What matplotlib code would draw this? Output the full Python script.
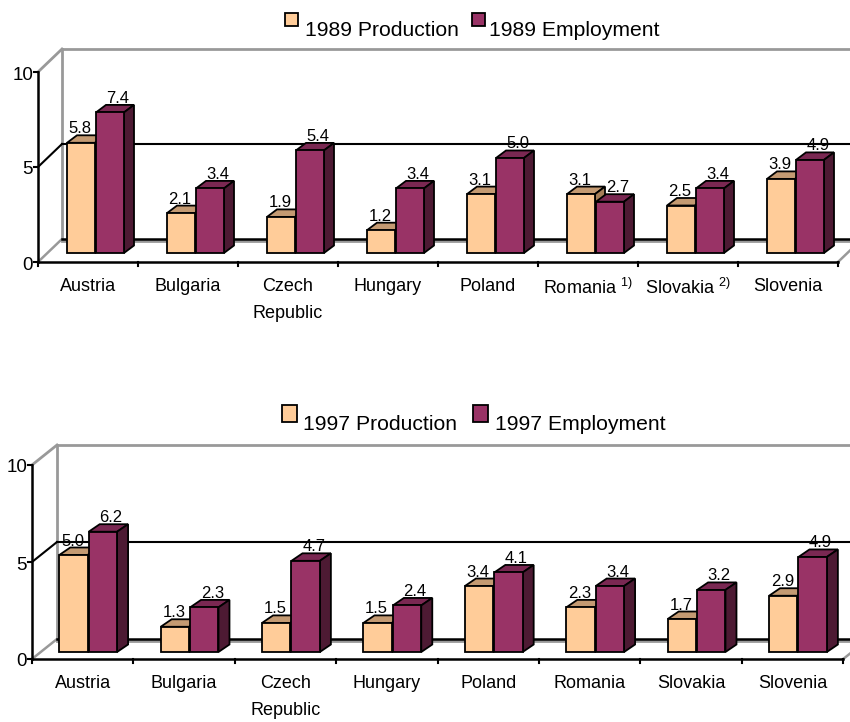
import matplotlib
matplotlib.use("Agg")
import matplotlib.pyplot as plt
from matplotlib.patches import Polygon, Rectangle

plt.rcParams["font.family"] = ["Liberation Sans", "DejaVu Sans"]
plt.rcParams["mathtext.fontset"] = "custom"
plt.rcParams["mathtext.rm"] = "Liberation Sans"

# ---- data -------------------------------------------------------------
countries = ["Austria", "Bulgaria", "Czech\nRepublic", "Hungary",
             "Poland", "Romania", "Slovakia", "Slovenia"]
notes_1989 = ["", "", "", "", "", "1)", "2)", ""]
notes_1997 = ["", "", "", "", "", "", "", ""]

production_1989 = [5.8, 2.1, 1.9, 1.2, 3.1, 3.1, 2.5, 3.9]
employment_1989 = [7.4, 3.4, 5.4, 3.4, 5.0, 2.7, 3.4, 4.9]
production_1997 = [5.0, 1.3, 1.5, 1.5, 3.4, 2.3, 1.7, 2.9]
employment_1997 = [6.2, 2.3, 4.7, 2.4, 4.1, 3.4, 3.2, 4.9]

y_ticks = [0, 5, 10]
y_max = 10

# ---- styling ----------------------------------------------------------
W, H = 850, 722
PROD_FRONT, PROD_TOP, PROD_SIDE = "#FFCC99", "#C49A72", "#A57E58"
EMP_FRONT, EMP_TOP, EMP_SIDE = "#993366", "#7A2852", "#4D1A33"
WALL_GREY = "#999999"

fig = plt.figure(figsize=(W / 100, H / 100), dpi=100)


def fig_xy(px, py):
    return px / W, 1 - py / H


def draw_legend(y_top, sq_w, sq_h, entries):
    for x_sq, x_txt, baseline, label, color in entries:
        fx, fy = fig_xy(x_sq, y_top + sq_h)
        fig.add_artist(Rectangle((fx, fy), sq_w / W, sq_h / H,
                                 transform=fig.transFigure, facecolor=color,
                                 edgecolor="black", linewidth=1.3))
        tx, ty = fig_xy(x_txt, baseline)
        fig.text(tx, ty, label, fontsize=15.2, va="baseline", ha="left")


def draw_panel(band, origin, cat_w, scale, plane, back, depth,
               prod, emp, notes):
    """3-D style clustered column chart drawn in value/category units."""
    top_px, bot_px = band
    ox, oy = origin
    ax = fig.add_axes([0, 1 - bot_px / H, 1, (bot_px - top_px) / H])
    ax.set_xlim(-ox / cat_w, (W - ox) / cat_w)
    ax.set_ylim((oy - bot_px) / scale, (oy - top_px) / scale)
    ax.axis("off")

    dx = lambda p: p / cat_w          # pixel offsets -> data units
    dy = lambda p: p / scale
    n = len(prod)
    bx, by = dx(back[0]), dy(back[1])

    # back wall and its gridlines
    ax.plot([bx, bx], [by, by + y_max], color=WALL_GREY, lw=2, zorder=1)
    ax.plot([bx, n + bx + 1], [by + y_max] * 2, color=WALL_GREY, lw=2, zorder=1)
    ax.plot([0, bx], [y_max, by + y_max], color=WALL_GREY, lw=2, zorder=1)
    ax.plot([0, bx], [0, by], color=WALL_GREY, lw=1.8, zorder=1)
    for t in y_ticks[1:-1]:
        ax.plot([0, bx], [t, by + t], color="black", lw=1.5, zorder=1)
        ax.plot([bx, n + bx + 1], [by + t] * 2, color="black", lw=1.5, zorder=1)
    ax.plot([bx, n + bx + 1], [by - dy(1.5)] * 2, color=WALL_GREY, lw=2, zorder=1)
    ax.plot([bx, n + bx + 1], [by] * 2, color="black", lw=1.8, zorder=1.1)

    # floor front edge with category ticks
    ax.plot([0, n], [0, 0], color="black", lw=1.8, zorder=2)
    ax.plot([n, n + bx], [0, by], color=WALL_GREY, lw=1.8, zorder=1)
    for k in range(n + 1):
        ax.plot([k, k], [0, -dy(4)], color="black", lw=1.5, zorder=2)

    # value axis on the front left edge
    ax.plot([0, 0], [0, y_max], color="black", lw=1.8, zorder=2)
    for t in y_ticks:
        ax.plot([-dx(4), 0], [t, t], color="black", lw=1.5, zorder=2)
        ax.text(-dx(5), t - dy(3), str(t), ha="right", va="center",
                fontsize=13.5)

    # category labels
    for k, (name, note) in enumerate(zip(countries, notes)):
        label = name + (r" $^{\mathregular{%s}}$" % note if note else "")
        ax.text(k + 0.5, -dy(16), label, ha="center", va="top",
                fontsize=13, linespacing=1.75)

    # columns
    px0, py0 = dx(plane[0]), dy(plane[1])
    ddx, ddy = dx(depth[0]), dy(depth[1])
    bw = 0.28
    centers = [k + 0.5 + px0 for k in range(n)]
    series = [
        (prod, [c - 0.30 for c in centers], PROD_FRONT, PROD_TOP, PROD_SIDE, 3, -1),
        (emp, [c - 0.01 for c in centers], EMP_FRONT, EMP_TOP, EMP_SIDE, 4, 8),
    ]
    for values, lefts, c_front, c_top, c_side, z, lab_dx in series:
        bars = ax.bar(lefts, values, width=bw, bottom=py0, align="edge",
                      color=c_front, edgecolor="black", linewidth=1.3,
                      zorder=z + 0.1)
        for bar, v in zip(bars, values):
            l = bar.get_x()
            r = l + bar.get_width()
            b = bar.get_y()
            t = b + bar.get_height()
            ax.add_patch(Polygon([(l, t), (r, t), (r + ddx, t + ddy),
                                  (l + ddx, t + ddy)], closed=True,
                                 facecolor=c_top, edgecolor="black",
                                 linewidth=1.3, zorder=z))
            ax.add_patch(Polygon([(r, b), (r + ddx, b + ddy),
                                  (r + ddx, t + ddy), (r, t)], closed=True,
                                 facecolor=c_side, edgecolor="black",
                                 linewidth=1.3, zorder=z))
            ax.text((l + r) / 2 + dx(lab_dx), t + ddy + dy(2), f"{v:.1f}",
                    ha="center", va="baseline", fontsize=12, zorder=6)
    return ax


# 1989 panel
draw_legend(13, 13, 13, [
    (285, 305, 36, "1989 Production", PROD_FRONT),
    (472, 489, 36, "1989 Employment", EMP_FRONT),
])
draw_panel(band=(40, 361), origin=(38, 262), cat_w=100, scale=19.0,
           plane=(9, 9), back=(24, 23), depth=(10, 7.5),
           prod=production_1989, emp=employment_1989, notes=notes_1989)

# 1997 panel
draw_legend(405, 15, 17, [
    (282, 303, 430, "1997 Production", PROD_FRONT),
    (473, 495, 430, "1997 Employment", EMP_FRONT),
])
draw_panel(band=(430, 722), origin=(32, 659), cat_w=101.4, scale=19.4,
           plane=(7, 7), back=(25, 20), depth=(11, 7.5),
           prod=production_1997, emp=employment_1997, notes=notes_1997)

fig.savefig("out.png", dpi=100)
